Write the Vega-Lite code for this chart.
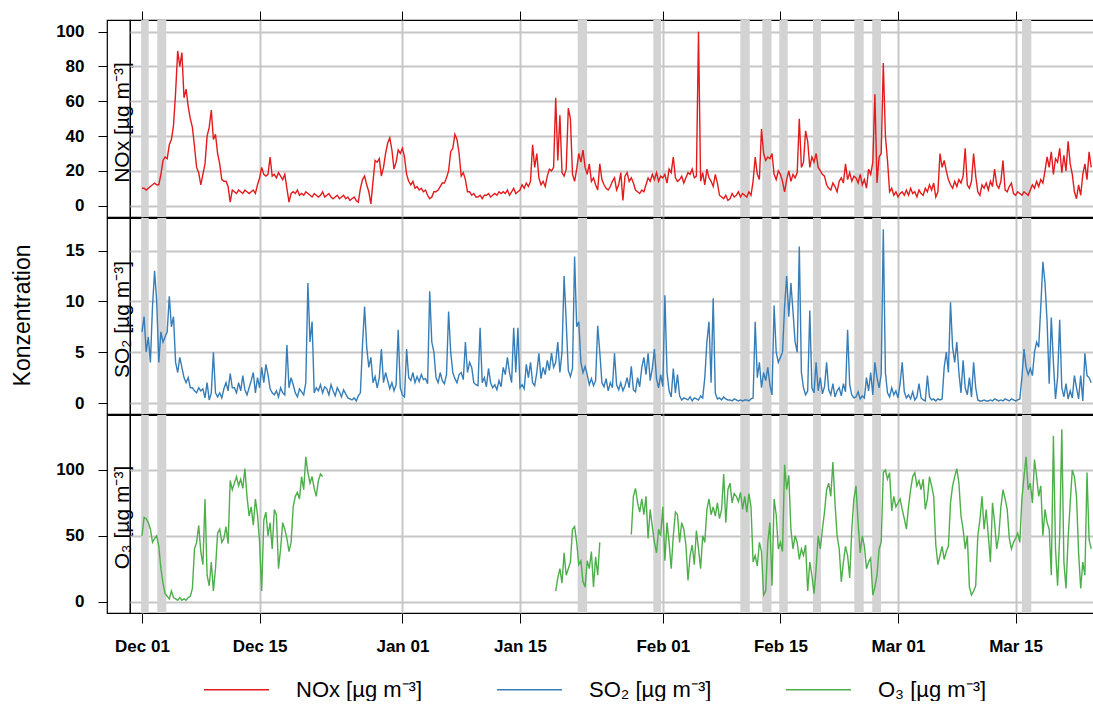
{
  "$schema": "https://vega.github.io/schema/vega-lite/v6.json",
  "padding": {"left": 12, "top": 9, "right": 0, "bottom": 0},
  "title": {
    "text": "Konzentration",
    "orient": "left",
    "anchor": "middle",
    "frame": "bounds",
    "font": "Liberation Sans",
    "fontSize": 23,
    "fontWeight": "normal",
    "color": "black",
    "offset": 16,
    "dx": 40
  },
  "datasets": {
    "bands": [
      {"a": "2010-11-30T22:00", "b": "2010-12-01T19:10"},
      {"a": "2010-12-02T19:40", "b": "2010-12-03T21:25"},
      {"a": "2011-01-21T20:50", "b": "2011-01-22T23:45"},
      {"a": "2011-01-30T20:50", "b": "2011-01-31T19:00"},
      {"a": "2011-02-10T05:30", "b": "2011-02-11T08:25"},
      {"a": "2011-02-12T20:25", "b": "2011-02-13T22:35"},
      {"a": "2011-02-14T22:05", "b": "2011-02-15T20:50"},
      {"a": "2011-02-18T21:05", "b": "2011-02-19T19:55"},
      {"a": "2011-02-23T19:10", "b": "2011-02-24T22:05"},
      {"a": "2011-02-25T22:20", "b": "2011-02-26T23:30"},
      {"a": "2011-03-15T18:15", "b": "2011-03-16T20:55"}
    ],
    "conc": [
      {"t":"2010-12-01T00:00","n":10,"s":7,"o":50},{"t":"2010-12-01T06:00","n":10,"s":8.5,"o":64},{"t":"2010-12-01T12:00","n":9,"s":5,"o":63},{"t":"2010-12-01T18:00","n":10,"s":6.5,"o":60},
      {"t":"2010-12-02T00:00","n":11,"s":4,"o":55},{"t":"2010-12-02T06:00","n":12,"s":9.5,"o":45},{"t":"2010-12-02T12:00","n":13,"s":13,"o":48},{"t":"2010-12-02T18:00","n":12,"s":10,"o":50},
      {"t":"2010-12-03T00:00","n":12,"s":4,"o":42},{"t":"2010-12-03T06:00","n":18,"s":7,"o":25},{"t":"2010-12-03T12:00","n":26,"s":6,"o":14},{"t":"2010-12-03T18:00","n":28,"s":6.5,"o":6},
      {"t":"2010-12-04T00:00","n":27,"s":7,"o":4},{"t":"2010-12-04T06:00","n":35,"s":10.5,"o":2},{"t":"2010-12-04T12:00","n":38,"s":7.5,"o":8},{"t":"2010-12-04T18:00","n":46,"s":8.5,"o":3},
      {"t":"2010-12-05T00:00","n":65,"s":4,"o":2},{"t":"2010-12-05T06:00","n":89,"s":3,"o":1},{"t":"2010-12-05T12:00","n":80,"s":4.5,"o":3},{"t":"2010-12-05T18:00","n":88,"s":3.5,"o":1},
      {"t":"2010-12-06T00:00","n":62,"s":2.5,"o":2},{"t":"2010-12-06T06:00","n":67,"s":2,"o":1},{"t":"2010-12-06T12:00","n":57,"s":2.5,"o":3},{"t":"2010-12-06T18:00","n":50,"s":1.5,"o":4},
      {"t":"2010-12-07T00:00","n":45,"s":1.5,"o":10},{"t":"2010-12-07T06:00","n":34,"s":1.2,"o":40},{"t":"2010-12-07T12:00","n":22,"s":1,"o":45},{"t":"2010-12-07T18:00","n":19,"s":1.5,"o":58},
      {"t":"2010-12-08T00:00","n":12,"s":1.2,"o":38},{"t":"2010-12-08T06:00","n":18,"s":1.4,"o":28},{"t":"2010-12-08T12:00","n":24,"s":0.5,"o":78},{"t":"2010-12-08T18:00","n":40,"s":2,"o":20},
      {"t":"2010-12-09T00:00","n":45,"s":0.3,"o":12},{"t":"2010-12-09T06:00","n":55,"s":1,"o":30},{"t":"2010-12-09T12:00","n":38,"s":5,"o":8},{"t":"2010-12-09T18:00","n":41,"s":1,"o":25},
      {"t":"2010-12-10T00:00","n":30,"s":0.6,"o":52},{"t":"2010-12-10T06:00","n":24,"s":1,"o":55},{"t":"2010-12-10T12:00","n":15,"s":0.5,"o":45},{"t":"2010-12-10T18:00","n":14,"s":1.4,"o":48},
      {"t":"2010-12-11T00:00","n":14,"s":2,"o":57},{"t":"2010-12-11T06:00","n":11,"s":1.2,"o":44},{"t":"2010-12-11T12:00","n":2,"s":2.9,"o":92},{"t":"2010-12-11T18:00","n":9,"s":1.5,"o":85},
      {"t":"2010-12-12T00:00","n":8,"s":1.5,"o":90},{"t":"2010-12-12T06:00","n":7,"s":1,"o":95},{"t":"2010-12-12T12:00","n":9,"s":2,"o":88},{"t":"2010-12-12T18:00","n":8,"s":1.2,"o":93},
      {"t":"2010-12-13T00:00","n":7,"s":2.7,"o":86},{"t":"2010-12-13T06:00","n":9,"s":1.3,"o":101},{"t":"2010-12-13T12:00","n":8,"s":0.8,"o":80},{"t":"2010-12-13T18:00","n":7,"s":1.5,"o":65},
      {"t":"2010-12-14T00:00","n":8,"s":2.2,"o":72},{"t":"2010-12-14T06:00","n":9,"s":3,"o":58},{"t":"2010-12-14T12:00","n":7,"s":1,"o":78},{"t":"2010-12-14T18:00","n":12,"s":2.5,"o":66},
      {"t":"2010-12-15T00:00","n":16,"s":1.5,"o":45},{"t":"2010-12-15T06:00","n":22,"s":3.5,"o":8},{"t":"2010-12-15T12:00","n":18,"s":2,"o":62},{"t":"2010-12-15T18:00","n":17,"s":3.8,"o":68},
      {"t":"2010-12-16T00:00","n":18,"s":2.8,"o":50},{"t":"2010-12-16T06:00","n":28,"s":1.4,"o":60},{"t":"2010-12-16T12:00","n":17,"s":1,"o":40},{"t":"2010-12-16T18:00","n":18,"s":0.8,"o":70},
      {"t":"2010-12-17T00:00","n":16,"s":1.2,"o":66},{"t":"2010-12-17T06:00","n":19,"s":0.6,"o":25},{"t":"2010-12-17T12:00","n":17,"s":1.5,"o":40},{"t":"2010-12-17T18:00","n":15,"s":1,"o":60},
      {"t":"2010-12-18T00:00","n":18,"s":0.8,"o":55},{"t":"2010-12-18T06:00","n":10,"s":5.7,"o":48},{"t":"2010-12-18T12:00","n":2,"s":1.5,"o":38},{"t":"2010-12-18T18:00","n":7,"s":2.5,"o":45},
      {"t":"2010-12-19T00:00","n":8,"s":1.8,"o":72},{"t":"2010-12-19T06:00","n":7,"s":1,"o":80},{"t":"2010-12-19T12:00","n":9,"s":0.6,"o":83},{"t":"2010-12-19T18:00","n":6,"s":1.4,"o":78},
      {"t":"2010-12-20T00:00","n":7,"s":1.1,"o":95},{"t":"2010-12-20T06:00","n":6,"s":0.8,"o":85},{"t":"2010-12-20T12:00","n":8,"s":2,"o":110},{"t":"2010-12-20T18:00","n":7,"s":11.8,"o":98},
      {"t":"2010-12-21T00:00","n":6,"s":6,"o":90},{"t":"2010-12-21T06:00","n":5,"s":8,"o":95},{"t":"2010-12-21T12:00","n":7,"s":1,"o":86},{"t":"2010-12-21T18:00","n":6,"s":1.5,"o":80},
      {"t":"2010-12-22T00:00","n":5,"s":1.2,"o":92},{"t":"2010-12-22T06:00","n":6,"s":1.8,"o":97},{"t":"2010-12-22T12:00","n":8,"s":1,"o":95},{"t":"2010-12-22T18:00","n":5,"s":1.6,"o":null},
      {"t":"2010-12-23T00:00","n":6,"s":1.4,"o":null},{"t":"2010-12-23T06:00","n":7,"s":0.8,"o":null},{"t":"2010-12-23T12:00","n":5,"s":1.8,"o":null},{"t":"2010-12-23T18:00","n":4,"s":1.2,"o":null},
      {"t":"2010-12-24T00:00","n":5,"s":0.7,"o":null},{"t":"2010-12-24T06:00","n":6,"s":1.5,"o":null},{"t":"2010-12-24T12:00","n":4,"s":1.1,"o":null},{"t":"2010-12-24T18:00","n":5,"s":0.6,"o":null},
      {"t":"2010-12-25T00:00","n":6,"s":1.3,"o":null},{"t":"2010-12-25T06:00","n":4,"s":0.9,"o":null},{"t":"2010-12-25T12:00","n":5,"s":0.5,"o":null},{"t":"2010-12-25T18:00","n":3,"s":0.4,"o":null},
      {"t":"2010-12-26T00:00","n":4,"s":0.3,"o":null},{"t":"2010-12-26T06:00","n":5,"s":0.5,"o":null},{"t":"2010-12-26T12:00","n":3,"s":0.2,"o":null},{"t":"2010-12-26T18:00","n":2,"s":0.7,"o":null},
      {"t":"2010-12-27T00:00","n":10,"s":1,"o":null},{"t":"2010-12-27T06:00","n":15,"s":5.7,"o":null},{"t":"2010-12-27T12:00","n":17,"s":9.5,"o":null},{"t":"2010-12-27T18:00","n":12,"s":5.5,"o":null},
      {"t":"2010-12-28T00:00","n":8,"s":3.5,"o":null},{"t":"2010-12-28T06:00","n":1,"s":4.5,"o":null},{"t":"2010-12-28T12:00","n":14,"s":2,"o":null},{"t":"2010-12-28T18:00","n":26,"s":2.6,"o":null},
      {"t":"2010-12-29T00:00","n":25,"s":1.5,"o":null},{"t":"2010-12-29T06:00","n":27,"s":2.5,"o":null},{"t":"2010-12-29T12:00","n":17,"s":5.3,"o":null},{"t":"2010-12-29T18:00","n":22,"s":2,"o":null},
      {"t":"2010-12-30T00:00","n":30,"s":3,"o":null},{"t":"2010-12-30T06:00","n":36,"s":2.2,"o":null},{"t":"2010-12-30T12:00","n":39,"s":1.4,"o":null},{"t":"2010-12-30T18:00","n":32,"s":2,"o":null},
      {"t":"2010-12-31T00:00","n":21,"s":1.2,"o":null},{"t":"2010-12-31T06:00","n":25,"s":1.8,"o":null},{"t":"2010-12-31T12:00","n":32,"s":7.2,"o":null},{"t":"2010-12-31T18:00","n":30,"s":1.5,"o":null},
      {"t":"2011-01-01T00:00","n":33,"s":0.8,"o":null},{"t":"2011-01-01T06:00","n":28,"s":0.6,"o":null},{"t":"2011-01-01T12:00","n":18,"s":5.3,"o":null},{"t":"2011-01-01T18:00","n":14,"s":2.5,"o":null},
      {"t":"2011-01-02T00:00","n":12,"s":2.2,"o":null},{"t":"2011-01-02T06:00","n":14,"s":3,"o":null},{"t":"2011-01-02T12:00","n":10,"s":2,"o":null},{"t":"2011-01-02T18:00","n":11,"s":2.6,"o":null},
      {"t":"2011-01-03T00:00","n":9,"s":2.1,"o":null},{"t":"2011-01-03T06:00","n":10,"s":2.8,"o":null},{"t":"2011-01-03T12:00","n":8,"s":2.3,"o":null},{"t":"2011-01-03T18:00","n":9,"s":2.4,"o":null},
      {"t":"2011-01-04T00:00","n":6,"s":1.9,"o":null},{"t":"2011-01-04T06:00","n":4,"s":11,"o":null},{"t":"2011-01-04T12:00","n":5,"s":6,"o":null},{"t":"2011-01-04T18:00","n":8,"s":5,"o":null},
      {"t":"2011-01-05T00:00","n":8,"s":2.5,"o":null},{"t":"2011-01-05T06:00","n":9,"s":2,"o":null},{"t":"2011-01-05T12:00","n":11,"s":3,"o":null},{"t":"2011-01-05T18:00","n":13,"s":2.2,"o":null},
      {"t":"2011-01-06T00:00","n":13,"s":1.9,"o":null},{"t":"2011-01-06T06:00","n":16,"s":2.8,"o":null},{"t":"2011-01-06T12:00","n":20,"s":9,"o":null},{"t":"2011-01-06T18:00","n":31,"s":5,"o":null},
      {"t":"2011-01-07T00:00","n":33,"s":3,"o":null},{"t":"2011-01-07T06:00","n":41,"s":2.4,"o":null},{"t":"2011-01-07T12:00","n":38,"s":2,"o":null},{"t":"2011-01-07T18:00","n":30,"s":2.8,"o":null},
      {"t":"2011-01-08T00:00","n":17,"s":3,"o":null},{"t":"2011-01-08T06:00","n":19,"s":2.3,"o":null},{"t":"2011-01-08T12:00","n":15,"s":6,"o":null},{"t":"2011-01-08T18:00","n":8,"s":3,"o":null},
      {"t":"2011-01-09T00:00","n":8,"s":4,"o":null},{"t":"2011-01-09T06:00","n":6,"s":3.5,"o":null},{"t":"2011-01-09T12:00","n":7,"s":2,"o":null},{"t":"2011-01-09T18:00","n":5,"s":1.8,"o":null},
      {"t":"2011-01-10T00:00","n":5,"s":1.7,"o":null},{"t":"2011-01-10T06:00","n":6,"s":7.4,"o":null},{"t":"2011-01-10T12:00","n":4,"s":2,"o":null},{"t":"2011-01-10T18:00","n":6,"s":2.5,"o":null},
      {"t":"2011-01-11T00:00","n":6,"s":1.6,"o":null},{"t":"2011-01-11T06:00","n":7,"s":3.4,"o":null},{"t":"2011-01-11T12:00","n":5,"s":2,"o":null},{"t":"2011-01-11T18:00","n":6,"s":1.5,"o":null},
      {"t":"2011-01-12T00:00","n":7,"s":1.8,"o":null},{"t":"2011-01-12T06:00","n":6,"s":1.3,"o":null},{"t":"2011-01-12T12:00","n":8,"s":2.2,"o":null},{"t":"2011-01-12T18:00","n":7,"s":1.6,"o":null},
      {"t":"2011-01-13T00:00","n":8,"s":3.5,"o":null},{"t":"2011-01-13T06:00","n":7,"s":2.8,"o":null},{"t":"2011-01-13T12:00","n":9,"s":4.5,"o":null},{"t":"2011-01-13T18:00","n":6,"s":3,"o":null},
      {"t":"2011-01-14T00:00","n":8,"s":2,"o":null},{"t":"2011-01-14T06:00","n":10,"s":7.4,"o":null},{"t":"2011-01-14T12:00","n":7,"s":3,"o":null},{"t":"2011-01-14T18:00","n":8,"s":7.4,"o":null},
      {"t":"2011-01-15T00:00","n":9,"s":1.5,"o":null},{"t":"2011-01-15T06:00","n":12,"s":1.8,"o":null},{"t":"2011-01-15T12:00","n":10,"s":1.4,"o":null},{"t":"2011-01-15T18:00","n":13,"s":3.8,"o":null},
      {"t":"2011-01-16T00:00","n":11,"s":2.5,"o":null},{"t":"2011-01-16T06:00","n":14,"s":4,"o":null},{"t":"2011-01-16T12:00","n":35,"s":2,"o":null},{"t":"2011-01-16T18:00","n":22,"s":1.7,"o":null},
      {"t":"2011-01-17T00:00","n":30,"s":3,"o":null},{"t":"2011-01-17T06:00","n":16,"s":4.9,"o":null},{"t":"2011-01-17T12:00","n":12,"s":2.4,"o":null},{"t":"2011-01-17T18:00","n":14,"s":3.5,"o":null},
      {"t":"2011-01-18T00:00","n":11,"s":2.8,"o":null},{"t":"2011-01-18T06:00","n":17,"s":4.2,"o":null},{"t":"2011-01-18T12:00","n":21,"s":3.2,"o":null},{"t":"2011-01-18T18:00","n":20,"s":4.9,"o":null},
      {"t":"2011-01-19T00:00","n":22,"s":3.5,"o":null},{"t":"2011-01-19T06:00","n":62,"s":4,"o":8},{"t":"2011-01-19T12:00","n":26,"s":6,"o":18},{"t":"2011-01-19T18:00","n":52,"s":3,"o":25},
      {"t":"2011-01-20T00:00","n":19,"s":5,"o":14},{"t":"2011-01-20T06:00","n":17,"s":12.5,"o":37},{"t":"2011-01-20T12:00","n":21,"s":8,"o":20},{"t":"2011-01-20T18:00","n":56,"s":3.2,"o":25},
      {"t":"2011-01-21T00:00","n":50,"s":2.6,"o":30},{"t":"2011-01-21T06:00","n":18,"s":3.4,"o":55},{"t":"2011-01-21T12:00","n":14,"s":14.4,"o":57},{"t":"2011-01-21T18:00","n":21,"s":7.5,"o":45},
      {"t":"2011-01-22T00:00","n":30,"s":8,"o":28},{"t":"2011-01-22T06:00","n":25,"s":4,"o":31},{"t":"2011-01-22T12:00","n":32,"s":3,"o":15},{"t":"2011-01-22T18:00","n":22,"s":3.6,"o":11},
      {"t":"2011-01-23T00:00","n":18,"s":2.8,"o":31},{"t":"2011-01-23T06:00","n":24,"s":1.8,"o":25},{"t":"2011-01-23T12:00","n":14,"s":2.4,"o":38},{"t":"2011-01-23T18:00","n":16,"s":1.7,"o":11},
      {"t":"2011-01-24T00:00","n":12,"s":2.2,"o":34},{"t":"2011-01-24T06:00","n":9,"s":7.6,"o":20},{"t":"2011-01-24T12:00","n":24,"s":5,"o":45},{"t":"2011-01-24T18:00","n":15,"s":2,"o":null},
      {"t":"2011-01-25T00:00","n":12,"s":1.6,"o":null},{"t":"2011-01-25T06:00","n":10,"s":2.4,"o":null},{"t":"2011-01-25T12:00","n":9,"s":1.2,"o":null},{"t":"2011-01-25T18:00","n":11,"s":2,"o":null},
      {"t":"2011-01-26T00:00","n":14,"s":1.5,"o":null},{"t":"2011-01-26T06:00","n":16,"s":4.9,"o":null},{"t":"2011-01-26T12:00","n":9,"s":1.8,"o":null},{"t":"2011-01-26T18:00","n":12,"s":1.3,"o":null},
      {"t":"2011-01-27T00:00","n":19,"s":2,"o":null},{"t":"2011-01-27T06:00","n":3,"s":1.2,"o":null},{"t":"2011-01-27T12:00","n":17,"s":1.7,"o":null},{"t":"2011-01-27T18:00","n":19,"s":2.5,"o":null},
      {"t":"2011-01-28T00:00","n":14,"s":1.5,"o":null},{"t":"2011-01-28T06:00","n":16,"s":3.6,"o":51},{"t":"2011-01-28T12:00","n":13,"s":1.3,"o":80},{"t":"2011-01-28T18:00","n":9,"s":1.1,"o":86},
      {"t":"2011-01-29T00:00","n":8,"s":2.5,"o":75},{"t":"2011-01-29T06:00","n":7,"s":1.6,"o":68},{"t":"2011-01-29T12:00","n":9,"s":3.5,"o":78},{"t":"2011-01-29T18:00","n":8,"s":4.5,"o":66},
      {"t":"2011-01-30T00:00","n":12,"s":2.8,"o":80},{"t":"2011-01-30T06:00","n":16,"s":4.9,"o":48},{"t":"2011-01-30T12:00","n":14,"s":2.2,"o":70},{"t":"2011-01-30T18:00","n":18,"s":3.4,"o":57},
      {"t":"2011-01-31T00:00","n":15,"s":5.3,"o":45},{"t":"2011-01-31T06:00","n":19,"s":2.4,"o":37},{"t":"2011-01-31T12:00","n":14,"s":1.5,"o":55},{"t":"2011-01-31T18:00","n":17,"s":2.8,"o":50},
      {"t":"2011-02-01T00:00","n":16,"s":1.6,"o":72},{"t":"2011-02-01T06:00","n":18,"s":10.6,"o":31},{"t":"2011-02-01T12:00","n":13,"s":3,"o":60},{"t":"2011-02-01T18:00","n":21,"s":1.2,"o":45},
      {"t":"2011-02-02T00:00","n":19,"s":0.6,"o":25},{"t":"2011-02-02T06:00","n":28,"s":3.4,"o":50},{"t":"2011-02-02T12:00","n":16,"s":1,"o":68},{"t":"2011-02-02T18:00","n":14,"s":2.8,"o":66},
      {"t":"2011-02-03T00:00","n":15,"s":0.7,"o":45},{"t":"2011-02-03T06:00","n":17,"s":0.3,"o":60},{"t":"2011-02-03T12:00","n":13,"s":0.5,"o":55},{"t":"2011-02-03T18:00","n":16,"s":0.4,"o":43},
      {"t":"2011-02-04T00:00","n":19,"s":0.3,"o":16},{"t":"2011-02-04T06:00","n":18,"s":0.6,"o":35},{"t":"2011-02-04T12:00","n":21,"s":0.2,"o":43},{"t":"2011-02-04T18:00","n":16,"s":0.5,"o":28},
      {"t":"2011-02-05T00:00","n":17,"s":0.4,"o":54},{"t":"2011-02-05T06:00","n":100,"s":0.3,"o":40},{"t":"2011-02-05T12:00","n":14,"s":0.7,"o":25},{"t":"2011-02-05T18:00","n":19,"s":0.5,"o":50},
      {"t":"2011-02-06T00:00","n":12,"s":2.5,"o":45},{"t":"2011-02-06T06:00","n":21,"s":6,"o":70},{"t":"2011-02-06T12:00","n":16,"s":8,"o":78},{"t":"2011-02-06T18:00","n":14,"s":2,"o":66},
      {"t":"2011-02-07T00:00","n":11,"s":10.3,"o":72},{"t":"2011-02-07T06:00","n":18,"s":1,"o":65},{"t":"2011-02-07T12:00","n":13,"s":0.4,"o":75},{"t":"2011-02-07T18:00","n":6,"s":0.5,"o":63},
      {"t":"2011-02-08T00:00","n":5,"s":0.3,"o":70},{"t":"2011-02-08T06:00","n":4,"s":0.6,"o":97},{"t":"2011-02-08T12:00","n":6,"s":0.4,"o":60},{"t":"2011-02-08T18:00","n":3,"s":0.3,"o":85},
      {"t":"2011-02-09T00:00","n":4,"s":0.3,"o":90},{"t":"2011-02-09T06:00","n":7,"s":0.2,"o":75},{"t":"2011-02-09T12:00","n":5,"s":0.4,"o":82},{"t":"2011-02-09T18:00","n":6,"s":0.3,"o":80},
      {"t":"2011-02-10T00:00","n":8,"s":0.2,"o":76},{"t":"2011-02-10T06:00","n":5,"s":0.3,"o":83},{"t":"2011-02-10T12:00","n":7,"s":0.2,"o":70},{"t":"2011-02-10T18:00","n":6,"s":0.3,"o":80},
      {"t":"2011-02-11T00:00","n":5,"s":0.3,"o":68},{"t":"2011-02-11T06:00","n":8,"s":0.2,"o":82},{"t":"2011-02-11T12:00","n":6,"s":0.4,"o":72},{"t":"2011-02-11T18:00","n":14,"s":0.5,"o":30},
      {"t":"2011-02-12T00:00","n":28,"s":8,"o":35},{"t":"2011-02-12T06:00","n":18,"s":2.5,"o":27},{"t":"2011-02-12T12:00","n":15,"s":4,"o":45},{"t":"2011-02-12T18:00","n":44,"s":1.5,"o":38},
      {"t":"2011-02-13T00:00","n":30,"s":3,"o":5},{"t":"2011-02-13T06:00","n":26,"s":2.2,"o":8},{"t":"2011-02-13T12:00","n":28,"s":3.5,"o":45},{"t":"2011-02-13T18:00","n":27,"s":1.8,"o":60},
      {"t":"2011-02-14T00:00","n":30,"s":0.8,"o":12},{"t":"2011-02-14T06:00","n":18,"s":9.6,"o":78},{"t":"2011-02-14T12:00","n":15,"s":5,"o":66},{"t":"2011-02-14T18:00","n":20,"s":4,"o":40},
      {"t":"2011-02-15T00:00","n":18,"s":4.5,"o":45},{"t":"2011-02-15T06:00","n":14,"s":5,"o":38},{"t":"2011-02-15T12:00","n":8,"s":9.5,"o":104},{"t":"2011-02-15T18:00","n":15,"s":12.5,"o":85},
      {"t":"2011-02-16T00:00","n":20,"s":8.5,"o":96},{"t":"2011-02-16T06:00","n":14,"s":11.8,"o":55},{"t":"2011-02-16T12:00","n":18,"s":9,"o":40},{"t":"2011-02-16T18:00","n":16,"s":6,"o":50},
      {"t":"2011-02-17T00:00","n":19,"s":5,"o":45},{"t":"2011-02-17T06:00","n":50,"s":15.4,"o":32},{"t":"2011-02-17T12:00","n":22,"s":3,"o":40},{"t":"2011-02-17T18:00","n":25,"s":1.5,"o":35},
      {"t":"2011-02-18T00:00","n":43,"s":0.8,"o":43},{"t":"2011-02-18T06:00","n":37,"s":1.2,"o":8},{"t":"2011-02-18T12:00","n":22,"s":9.1,"o":30},{"t":"2011-02-18T18:00","n":28,"s":1.5,"o":20},
      {"t":"2011-02-19T00:00","n":25,"s":1,"o":6},{"t":"2011-02-19T06:00","n":30,"s":4,"o":25},{"t":"2011-02-19T12:00","n":22,"s":1.2,"o":50},{"t":"2011-02-19T18:00","n":20,"s":2.5,"o":40},
      {"t":"2011-02-20T00:00","n":18,"s":0.9,"o":55},{"t":"2011-02-20T06:00","n":17,"s":1.6,"o":68},{"t":"2011-02-20T12:00","n":12,"s":4,"o":85},{"t":"2011-02-20T18:00","n":10,"s":1.3,"o":90},
      {"t":"2011-02-21T00:00","n":9,"s":0.8,"o":80},{"t":"2011-02-21T06:00","n":13,"s":1.9,"o":106},{"t":"2011-02-21T12:00","n":11,"s":0.6,"o":75},{"t":"2011-02-21T18:00","n":8,"s":1.2,"o":50},
      {"t":"2011-02-22T00:00","n":14,"s":1.5,"o":40},{"t":"2011-02-22T06:00","n":16,"s":0.7,"o":15},{"t":"2011-02-22T12:00","n":13,"s":1.9,"o":30},{"t":"2011-02-22T18:00","n":24,"s":1.1,"o":42},
      {"t":"2011-02-23T00:00","n":15,"s":7.2,"o":35},{"t":"2011-02-23T06:00","n":19,"s":1.8,"o":18},{"t":"2011-02-23T12:00","n":14,"s":0.8,"o":55},{"t":"2011-02-23T18:00","n":17,"s":0.5,"o":78},
      {"t":"2011-02-24T00:00","n":16,"s":0.6,"o":88},{"t":"2011-02-24T06:00","n":13,"s":1.1,"o":60},{"t":"2011-02-24T12:00","n":18,"s":0.4,"o":37},{"t":"2011-02-24T18:00","n":12,"s":0.7,"o":50},
      {"t":"2011-02-25T00:00","n":15,"s":0.5,"o":42},{"t":"2011-02-25T06:00","n":10,"s":2.5,"o":25},{"t":"2011-02-25T12:00","n":21,"s":1.2,"o":30},{"t":"2011-02-25T18:00","n":18,"s":3,"o":33},
      {"t":"2011-02-26T00:00","n":25,"s":0.8,"o":5},{"t":"2011-02-26T06:00","n":64,"s":4,"o":11},{"t":"2011-02-26T12:00","n":13,"s":2.5,"o":20},{"t":"2011-02-26T18:00","n":28,"s":1.5,"o":40},
      {"t":"2011-02-27T00:00","n":30,"s":2.8,"o":45},{"t":"2011-02-27T06:00","n":82,"s":17.1,"o":98},{"t":"2011-02-27T12:00","n":40,"s":3,"o":100},{"t":"2011-02-27T18:00","n":26,"s":1,"o":93},
      {"t":"2011-02-28T00:00","n":8,"s":0.6,"o":98},{"t":"2011-02-28T06:00","n":10,"s":1.5,"o":69},{"t":"2011-02-28T12:00","n":6,"s":0.8,"o":80},{"t":"2011-02-28T18:00","n":8,"s":1.2,"o":72},
      {"t":"2011-03-01T00:00","n":5,"s":0.5,"o":75},{"t":"2011-03-01T06:00","n":7,"s":1.9,"o":78},{"t":"2011-03-01T12:00","n":8,"s":4,"o":70},{"t":"2011-03-01T18:00","n":6,"s":1.1,"o":63},
      {"t":"2011-03-02T00:00","n":9,"s":0.5,"o":55},{"t":"2011-03-02T06:00","n":6,"s":0.8,"o":72},{"t":"2011-03-02T12:00","n":10,"s":0.4,"o":85},{"t":"2011-03-02T18:00","n":7,"s":1.1,"o":95},
      {"t":"2011-03-03T00:00","n":8,"s":0.3,"o":98},{"t":"2011-03-03T06:00","n":5,"s":0.6,"o":88},{"t":"2011-03-03T12:00","n":9,"s":1.9,"o":92},{"t":"2011-03-03T18:00","n":7,"s":0.5,"o":85},
      {"t":"2011-03-04T00:00","n":6,"s":0.3,"o":93},{"t":"2011-03-04T06:00","n":10,"s":0.2,"o":70},{"t":"2011-03-04T12:00","n":8,"s":2.7,"o":78},{"t":"2011-03-04T18:00","n":12,"s":0.6,"o":95},
      {"t":"2011-03-05T00:00","n":9,"s":0.3,"o":88},{"t":"2011-03-05T06:00","n":13,"s":0.4,"o":80},{"t":"2011-03-05T12:00","n":5,"s":0.2,"o":43},{"t":"2011-03-05T18:00","n":8,"s":0.4,"o":28},
      {"t":"2011-03-06T00:00","n":30,"s":0.3,"o":35},{"t":"2011-03-06T06:00","n":22,"s":0.4,"o":42},{"t":"2011-03-06T12:00","n":26,"s":3.5,"o":32},{"t":"2011-03-06T18:00","n":20,"s":5,"o":38},
      {"t":"2011-03-07T00:00","n":15,"s":3,"o":42},{"t":"2011-03-07T06:00","n":12,"s":9.9,"o":75},{"t":"2011-03-07T12:00","n":10,"s":5.5,"o":88},{"t":"2011-03-07T18:00","n":14,"s":4,"o":95},
      {"t":"2011-03-08T00:00","n":11,"s":6,"o":101},{"t":"2011-03-08T06:00","n":15,"s":3,"o":90},{"t":"2011-03-08T12:00","n":13,"s":1,"o":65},{"t":"2011-03-08T18:00","n":17,"s":4.2,"o":55},
      {"t":"2011-03-09T00:00","n":33,"s":1.5,"o":40},{"t":"2011-03-09T06:00","n":12,"s":0.8,"o":50},{"t":"2011-03-09T12:00","n":10,"s":2.5,"o":11},{"t":"2011-03-09T18:00","n":14,"s":0.6,"o":5},
      {"t":"2011-03-10T00:00","n":30,"s":4,"o":8},{"t":"2011-03-10T06:00","n":17,"s":1.5,"o":12},{"t":"2011-03-10T12:00","n":8,"s":0.3,"o":50},{"t":"2011-03-10T18:00","n":6,"s":0.2,"o":62},
      {"t":"2011-03-11T00:00","n":12,"s":0.2,"o":80},{"t":"2011-03-11T06:00","n":10,"s":0.3,"o":55},{"t":"2011-03-11T12:00","n":13,"s":0.2,"o":70},{"t":"2011-03-11T18:00","n":9,"s":0.2,"o":50},
      {"t":"2011-03-12T00:00","n":14,"s":0.3,"o":30},{"t":"2011-03-12T06:00","n":11,"s":0.2,"o":75},{"t":"2011-03-12T12:00","n":21,"s":0.4,"o":60},{"t":"2011-03-12T18:00","n":12,"s":0.3,"o":40},
      {"t":"2011-03-13T00:00","n":10,"s":0.2,"o":50},{"t":"2011-03-13T06:00","n":14,"s":0.3,"o":72},{"t":"2011-03-13T12:00","n":26,"s":0.2,"o":85},{"t":"2011-03-13T18:00","n":9,"s":0.4,"o":78},
      {"t":"2011-03-14T00:00","n":8,"s":0.3,"o":70},{"t":"2011-03-14T06:00","n":11,"s":0.2,"o":48},{"t":"2011-03-14T12:00","n":13,"s":0.4,"o":40},{"t":"2011-03-14T18:00","n":7,"s":0.3,"o":45},
      {"t":"2011-03-15T00:00","n":6,"s":0.2,"o":48},{"t":"2011-03-15T06:00","n":8,"s":0.3,"o":52},{"t":"2011-03-15T12:00","n":7,"s":0.4,"o":45},{"t":"2011-03-15T18:00","n":6,"s":2.5,"o":78},
      {"t":"2011-03-16T00:00","n":8,"s":5.3,"o":95},{"t":"2011-03-16T06:00","n":7,"s":3.5,"o":110},{"t":"2011-03-16T12:00","n":6,"s":2.8,"o":85},{"t":"2011-03-16T18:00","n":9,"s":3.4,"o":90},
      {"t":"2011-03-17T00:00","n":12,"s":2.7,"o":75},{"t":"2011-03-17T06:00","n":10,"s":5,"o":108},{"t":"2011-03-17T12:00","n":14,"s":6,"o":95},{"t":"2011-03-17T18:00","n":11,"s":5.5,"o":80},
      {"t":"2011-03-18T00:00","n":15,"s":9.5,"o":88},{"t":"2011-03-18T06:00","n":13,"s":13.9,"o":50},{"t":"2011-03-18T12:00","n":20,"s":11.8,"o":70},{"t":"2011-03-18T18:00","n":28,"s":8,"o":60},
      {"t":"2011-03-19T00:00","n":22,"s":1.9,"o":55},{"t":"2011-03-19T06:00","n":31,"s":8.4,"o":20},{"t":"2011-03-19T12:00","n":18,"s":4,"o":126},{"t":"2011-03-19T18:00","n":27,"s":0.4,"o":40},
      {"t":"2011-03-20T00:00","n":25,"s":2.5,"o":12},{"t":"2011-03-20T06:00","n":33,"s":8.2,"o":50},{"t":"2011-03-20T12:00","n":19,"s":1.5,"o":131},{"t":"2011-03-20T18:00","n":29,"s":0.6,"o":30},
      {"t":"2011-03-21T00:00","n":20,"s":1.9,"o":10},{"t":"2011-03-21T06:00","n":37,"s":0.4,"o":48},{"t":"2011-03-21T12:00","n":24,"s":1.2,"o":75},{"t":"2011-03-21T18:00","n":18,"s":0.5,"o":100},
      {"t":"2011-03-22T00:00","n":8,"s":2.7,"o":95},{"t":"2011-03-22T06:00","n":4,"s":1.5,"o":80},{"t":"2011-03-22T12:00","n":12,"s":0.4,"o":37},{"t":"2011-03-22T18:00","n":6,"s":2.7,"o":10},
      {"t":"2011-03-23T00:00","n":18,"s":0.2,"o":30},{"t":"2011-03-23T06:00","n":24,"s":4.9,"o":20},{"t":"2011-03-23T12:00","n":15,"s":2.7,"o":98},{"t":"2011-03-23T18:00","n":31,"s":2.5,"o":47},
      {"t":"2011-03-24T00:00","n":22,"s":2,"o":40}
    ]
  },
  "vconcat": [
    {
      "hconcat": [
        {
          "width": 23,
          "height": 197,
          "data": {"values": [{}]},
          "mark": {"type": "rule", "strokeOpacity": 0},
          "encoding": {
            "y": {
              "datum": 0,
              "type": "quantitative",
              "scale": {"domain": [-6.5, 106.7], "nice": false, "zero": false},
              "axis": {"values": [0, 20, 40, 60, 80, 100], "grid": false, "minExtent": 55, "title": "NOx [µg m⁻³]", "titleX": 21, "titleY": 102}
            }
          }
        },
        {
          "width": 964,
          "height": 197,
          "layer": [
            {
              "data": {"name": "bands"},
              "mark": {"type": "rect", "color": "#d3d3d3"},
              "encoding": {
                "x": {
                  "field": "a",
                  "type": "temporal",
                  "scale": {"domain": [{"year": 2010, "month": 11, "date": 29, "hours": 13, "minutes": 43}, {"year": 2011, "month": 3, "date": 24, "hours": 8}]},
                  "axis": {"orient": "top", "labels": false, "ticks": true, "tickSize": 9, "grid": true, "title": null, "minExtent": 0,
                    "values": [{"year": 2010, "month": 12, "date": 1}, {"year": 2010, "month": 12, "date": 15}, {"year": 2011, "month": 1, "date": 1}, {"year": 2011, "month": 1, "date": 15}, {"year": 2011, "month": 2, "date": 1}, {"year": 2011, "month": 2, "date": 15}, {"year": 2011, "month": 3, "date": 1}, {"year": 2011, "month": 3, "date": 15}]}
                },
                "x2": {"field": "b"}
              }
            },
            {
              "data": {"name": "conc"},
              "mark": {"type": "line", "strokeWidth": 1.4},
              "encoding": {
                "x": {"field": "t", "type": "temporal"},
                "y": {
                  "field": "n",
                  "type": "quantitative",
                  "scale": {"domain": [-6.5, 106.7], "nice": false, "zero": false},
                  "axis": {"values": [0, 20, 40, 60, 80, 100], "grid": true, "labels": false, "ticks": false, "title": null, "minExtent": 0}
                },
                "color": {
                  "datum": "NOx [µg m⁻³]",
                  "type": "nominal",
                  "scale": {"domain": ["NOx [µg m⁻³]", "SO₂ [µg m⁻³]", "O₃ [µg m⁻³]"], "range": ["#e41a1c", "#377eb8", "#4daf4a"]},
                  "legend": {"title": null}
                }
              }
            }
          ]
        }
      ],
      "spacing": 0,
      "bounds": "flush"
    },
    {
      "hconcat": [
        {
          "width": 23,
          "height": 196,
          "data": {"values": [{}]},
          "mark": {"type": "rule", "strokeOpacity": 0},
          "encoding": {
            "y": {
              "datum": 0,
              "type": "quantitative",
              "scale": {"domain": [-1.08, 18.2], "nice": false, "zero": false},
              "axis": {"values": [0, 5, 10, 15], "grid": false, "minExtent": 55, "title": "SO₂ [µg m⁻³]", "titleX": 21, "titleY": 101}
            }
          }
        },
        {
          "width": 964,
          "height": 196,
          "layer": [
            {
              "data": {"name": "bands"},
              "mark": {"type": "rect", "color": "#d3d3d3"},
              "encoding": {
                "x": {
                  "field": "a",
                  "type": "temporal",
                  "scale": {"domain": [{"year": 2010, "month": 11, "date": 29, "hours": 13, "minutes": 43}, {"year": 2011, "month": 3, "date": 24, "hours": 8}]},
                  "axis": {"orient": "bottom", "labels": false, "ticks": false, "grid": true, "title": null, "minExtent": 0,
                    "values": [{"year": 2010, "month": 12, "date": 1}, {"year": 2010, "month": 12, "date": 15}, {"year": 2011, "month": 1, "date": 1}, {"year": 2011, "month": 1, "date": 15}, {"year": 2011, "month": 2, "date": 1}, {"year": 2011, "month": 2, "date": 15}, {"year": 2011, "month": 3, "date": 1}, {"year": 2011, "month": 3, "date": 15}]}
                },
                "x2": {"field": "b"}
              }
            },
            {
              "data": {"name": "conc"},
              "mark": {"type": "line", "strokeWidth": 1.4},
              "encoding": {
                "x": {"field": "t", "type": "temporal"},
                "y": {
                  "field": "s",
                  "type": "quantitative",
                  "scale": {"domain": [-1.08, 18.2], "nice": false, "zero": false},
                  "axis": {"values": [0, 5, 10, 15], "grid": true, "labels": false, "ticks": false, "title": null, "minExtent": 0}
                },
                "color": {
                  "datum": "SO₂ [µg m⁻³]",
                  "type": "nominal",
                  "scale": {"domain": ["NOx [µg m⁻³]", "SO₂ [µg m⁻³]", "O₃ [µg m⁻³]"], "range": ["#e41a1c", "#377eb8", "#4daf4a"]},
                  "legend": {"title": null}
                }
              }
            }
          ]
        }
      ],
      "spacing": 0,
      "bounds": "flush"
    },
    {
      "hconcat": [
        {
          "width": 23,
          "height": 198,
          "data": {"values": [{}]},
          "mark": {"type": "rule", "strokeOpacity": 0},
          "encoding": {
            "y": {
              "datum": 0,
              "type": "quantitative",
              "scale": {"domain": [-8.7, 141.8], "nice": false, "zero": false},
              "axis": {"values": [0, 50, 100], "grid": false, "minExtent": 55, "title": "O₃ [µg m⁻³]", "titleX": 21, "titleY": 102}
            }
          }
        },
        {
          "width": 964,
          "height": 198,
          "layer": [
            {
              "data": {"name": "bands"},
              "mark": {"type": "rect", "color": "#d3d3d3"},
              "encoding": {
                "x": {
                  "field": "a",
                  "type": "temporal",
                  "scale": {"domain": [{"year": 2010, "month": 11, "date": 29, "hours": 13, "minutes": 43}, {"year": 2011, "month": 3, "date": 24, "hours": 8}]},
                  "axis": {"orient": "bottom", "labels": true, "ticks": true, "tickSize": 10, "grid": true, "title": null, "minExtent": 0, "format": "%b %d", "labelPadding": 15,
                    "values": [{"year": 2010, "month": 12, "date": 1}, {"year": 2010, "month": 12, "date": 15}, {"year": 2011, "month": 1, "date": 1}, {"year": 2011, "month": 1, "date": 15}, {"year": 2011, "month": 2, "date": 1}, {"year": 2011, "month": 2, "date": 15}, {"year": 2011, "month": 3, "date": 1}, {"year": 2011, "month": 3, "date": 15}]}
                },
                "x2": {"field": "b"}
              }
            },
            {
              "data": {"name": "conc"},
              "mark": {"type": "line", "strokeWidth": 1.4, "invalid": "break-paths-show-domains"},
              "encoding": {
                "x": {"field": "t", "type": "temporal"},
                "y": {
                  "field": "o",
                  "type": "quantitative",
                  "scale": {"domain": [-8.7, 141.8], "nice": false, "zero": false},
                  "axis": {"values": [0, 50, 100], "grid": true, "labels": false, "ticks": false, "title": null, "minExtent": 0}
                },
                "color": {
                  "datum": "O₃ [µg m⁻³]",
                  "type": "nominal",
                  "scale": {"domain": ["NOx [µg m⁻³]", "SO₂ [µg m⁻³]", "O₃ [µg m⁻³]"], "range": ["#e41a1c", "#377eb8", "#4daf4a"]},
                  "legend": {"title": null}
                }
              }
            }
          ]
        }
      ],
      "spacing": 0,
      "bounds": "flush"
    }
  ],
  "spacing": -4,
  "config": {
    "font": "Liberation Sans",
    "view": {"stroke": "black", "strokeWidth": 1.2},
    "axis": {
      "domain": false,
      "gridColor": "#c6c6c6",
      "gridWidth": 2,
      "gridOpacity": 1,
      "tickColor": "black",
      "tickWidth": 1,
      "tickSize": 9,
      "labelFont": "Liberation Sans",
      "labelFontSize": 17,
      "labelFontWeight": "bold",
      "labelColor": "black",
      "labelPadding": 14,
      "titleFont": "Liberation Sans",
      "titleFontSize": 21,
      "titleFontWeight": "normal",
      "titleColor": "black",
      "titleAngle": -90,
      "titleAlign": "center",
      "titleBaseline": "alphabetic"
    },
    "legend": {
      "orient": "none",
      "legendX": 96,
      "legendY": 636,
      "direction": "horizontal",
      "symbolType": "stroke",
      "symbolStrokeWidth": 1.5,
      "symbolSize": 4225,
      "labelFont": "Liberation Sans",
      "labelFontSize": 22,
      "labelColor": "black",
      "labelOffset": 26,
      "columnPadding": 71,
      "labelLimit": 300
    }
  }
}
